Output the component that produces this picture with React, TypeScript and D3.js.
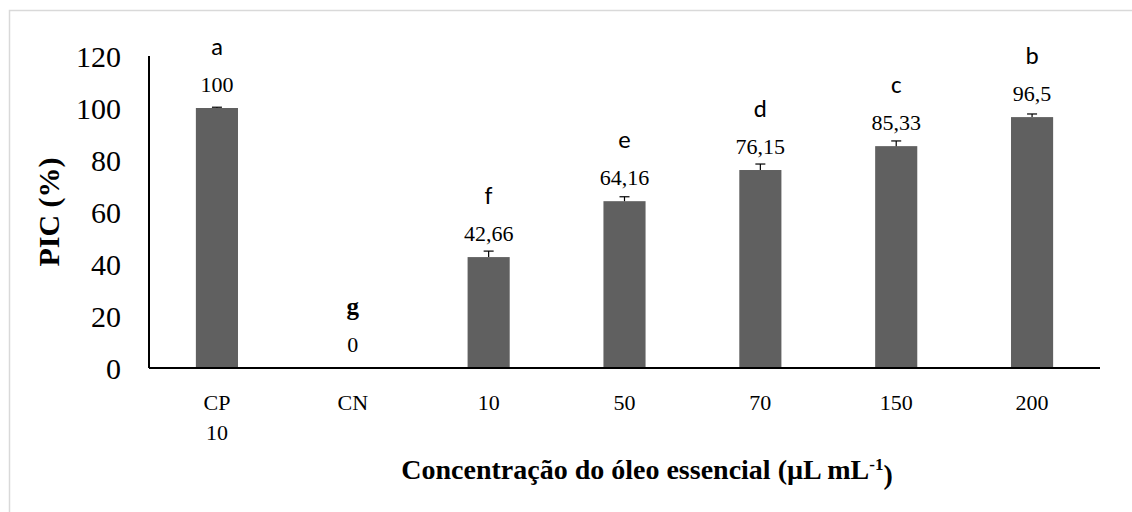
import React from 'react';
import * as d3 from 'd3';

const categories = ['CP\n10', 'CN', '10', '50', '70', '150', '200'];
const values = [100, 0, 42.66, 64.16, 76.15, 85.33, 96.5];
const errors = [0.3, 0, 2.3, 1.7, 2.3, 2.0, 1.2];
const valueLabels = ['100', '0', '42,66', '64,16', '76,15', '85,33', '96,5'];
const letters = ['a', 'g', 'f', 'e', 'd', 'c', 'b'];
const yTicks = [0, 20, 40, 60, 80, 100, 120];

const W = 1132;
const H = 512;
const margin = { left: 149, right: 32, top: 56, bottom: 144 };

const App = () => {
    const x = d3
        .scaleBand<string>()
        .domain(categories)
        .range([margin.left, W - margin.right])
        .paddingInner(0.69)
        .paddingOuter(0.345);

    const y = d3
        .scaleLinear()
        .domain([0, 120])
        .range([H - margin.bottom, margin.top]);

    const serif = '"Times New Roman", "Liberation Serif", serif';
    const sans = 'Carlito, "Open Sans", "Liberation Sans", sans-serif';
    const bw = x.bandwidth();

    return (
        <svg width={W} height={H} style={{ position: 'absolute', left: 0, top: 0, background: '#fff' }}>
            <rect x={9.5} y={10.5} width={W} height={H} fill='none' stroke='#d9d9d9' strokeWidth={1.5} />

            {yTicks.map((t) => (
                <text key={t} x={121} y={y(t)} dy='0.35em' textAnchor='end' fontFamily={serif} fontSize={30}>
                    {t}
                </text>
            ))}

            {categories.map((c, i) => {
                const cx = (x(c) as number) + bw / 2;
                const top = y(values[i]);
                return (
                    <g key={c}>
                        {values[i] > 0 && (
                            <rect x={x(c)} y={top} width={bw} height={y(0) - top} fill='#606060' />
                        )}
                        {errors[i] > 0 && (
                            <g stroke='#000' strokeWidth={1.2}>
                                <line x1={cx} x2={cx} y1={top} y2={y(values[i] + errors[i])} />
                                <line x1={cx - 5} x2={cx + 5} y1={y(values[i] + errors[i])} y2={y(values[i] + errors[i])} />
                            </g>
                        )}
                        <text x={cx} y={top - 24} dy='0.35em' textAnchor='middle' fontFamily={serif} fontSize={22}>
                            {valueLabels[i]}
                        </text>
                        <text
                            x={cx}
                            y={top - 24 - 38}
                            dy='0.35em'
                            textAnchor='middle'
                            fontFamily={letters[i] === 'g' ? serif : sans}
                            fontWeight={letters[i] === 'g' ? 'bold' : 'normal'}
                            fontSize={25}
                        >
                            {letters[i]}
                        </text>
                        {c.split('\n').map((line, j) => (
                            <text key={j} x={cx} y={402 + j * 30} dy='0.35em' textAnchor='middle' fontFamily={serif} fontSize={22}>
                                {line}
                            </text>
                        ))}
                    </g>
                );
            })}

            <line x1={margin.left} x2={margin.left} y1={margin.top} y2={y(0)} stroke='#000' strokeWidth={2} />
            <line x1={margin.left} x2={W - margin.right} y1={y(0)} y2={y(0)} stroke='#000' strokeWidth={2} />

            <text
                transform={`translate(48, 212) rotate(-90)`}
                dy='0.35em'
                textAnchor='middle'
                fontFamily={serif}
                fontWeight='bold'
                fontSize={30}
            >
                PIC (%)
            </text>

            <text x={647} y={469} dy='0.35em' textAnchor='middle' fontFamily={serif} fontWeight='bold' fontSize={28}>
                Concentração do óleo essencial (µL mL
                <tspan dy='-0.5em' fontSize={17}>-1</tspan>
                <tspan dy='0.5em'>)</tspan>
            </text>
        </svg>
    );
};

export default App;
